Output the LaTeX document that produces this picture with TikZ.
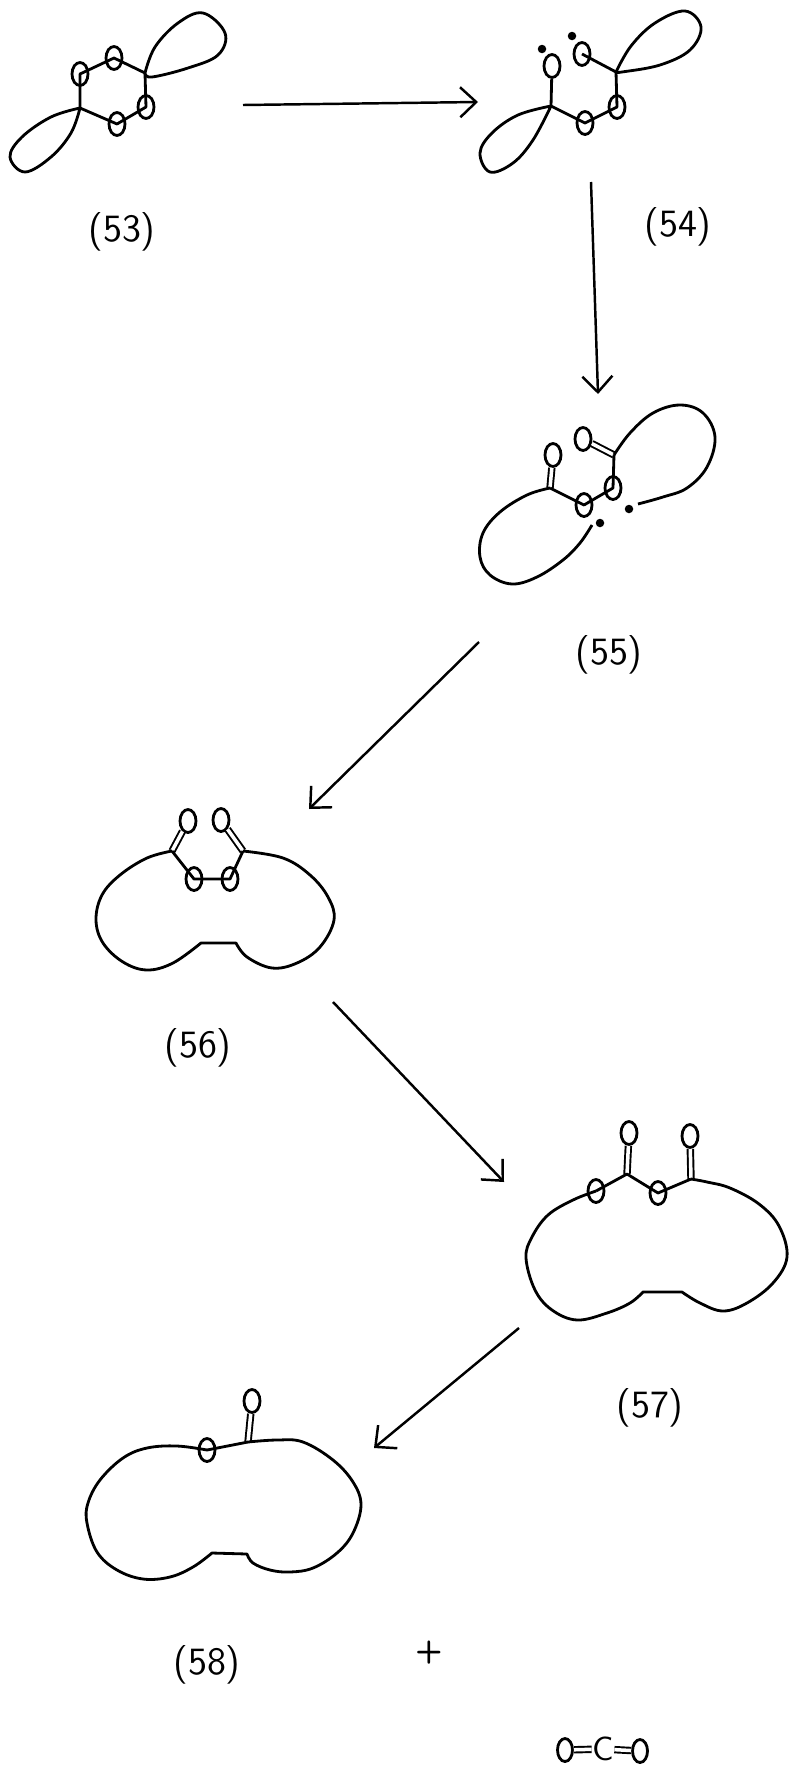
\documentclass[tikz,border=0pt]{standalone}
\usepackage{xcolor}
\usepackage{tikz}
\usetikzlibrary{arrows.meta,positioning,shapes.geometric}
\tikzset{
  oatom/.style={ellipse,draw=black,line width=0.8pt,minimum width=1.6mm,
                minimum height=2.3mm,inner sep=0pt},
  radical/.style={circle,fill=black,minimum size=0.85mm,inner sep=0pt},
  bondline/.style={line width=0.8pt,line join=round},
  dblbond/.style={line width=0.55pt,double,double distance=1pt},
  ringline/.style={smooth,tension=0.62},
  rxnarrow/.style={-{Straight Barb[length=1.6mm,width=3mm]},line width=0.7pt},
  cmpdlabel/.style={font=\sffamily\fontsize{11}{13}\selectfont}
}
\begin{document}
\begin{tikzpicture}[x=0.1mm,y=-0.1mm]
    \useasboundingbox (0,0) rectangle (789,1765);

    \begin{scope}
      \node[cmpdlabel] (l53) at (122,232) {(53)};
      \coordinate (c53a) at (145,73);
      \coordinate (c53b) at (80,108);
      \node[oatom] (o53a) at (114,58) {};
      \node[oatom] (o53b) at (80,74) {};
      \node[oatom] (o53c) at (146,107) {};
      \node[oatom] (o53d) at (117,124) {};
      \draw[bondline] (c53a) -- (o53a.center) -- (o53b.center) -- (c53b)
        -- (o53d.center) -- (o53c.center) -- (c53a);
      \draw[bondline] plot[ringline] coordinates {(c53a) (155,47) (178,23)
        (203,13) (225,33) (218,55) (188,68) (152,77) (c53a)};
      \draw[bondline] plot[ringline] coordinates {(c53b) (51,117) (22,137)
        (10,157) (25,172) (51,157) (71,133) (c53b)};
    \end{scope}

    \begin{scope}
      \node[cmpdlabel] (l54) at (678,227) {(54)};
      \coordinate (c54a) at (616,72);
      \coordinate (c54b) at (551,106);
      \node[oatom] (o54a) at (552,66) {};
      \node[oatom] (o54b) at (582,54) {};
      \node[oatom] (o54c) at (617,107) {};
      \node[oatom] (o54d) at (585,123) {};
      \node[radical] (r54a) at (542,49) {};
      \node[radical] (r54b) at (572,36) {};
      \draw[bondline] (o54b.center) -- (c54a) -- (o54c.center) -- (o54d.center)
        -- (c54b) -- (o54a);
      \draw[bondline] plot[ringline] coordinates {(c54a) (631,46) (655,23)
        (685,11) (701,27) (690,50) (660,65) (622,72) (c54a)};
      \draw[bondline] plot[ringline] coordinates {(c54b) (518,115) (492,133)
        (480,153) (490,172) (513,163) (533,140) (c54b)};
    \end{scope}

    \begin{scope}
      \node[cmpdlabel] (l55) at (609,655) {(55)};
      \coordinate (c55a) at (550,488);
      \coordinate (c55b) at (614,455);
      \coordinate (e55a) at (592,525);
      \coordinate (e55b) at (638,504);
      \node[oatom] (o55a) at (553,455) {};
      \node[oatom] (o55b) at (583,439) {};
      \node[oatom] (o55c) at (584,505) {};
      \node[oatom] (o55d) at (613,488) {};
      \node[radical] (r55a) at (600,523) {};
      \node[radical] (r55b) at (629,509) {};
      \draw[dblbond] (c55a) -- (o55a);
      \draw[dblbond] (c55b) -- (o55b);
      \draw[bondline] (c55a) -- (o55c.center) -- (o55d.center) -- (c55b);
      \draw[bondline] plot[ringline] coordinates {(c55a) (527,495) (500,512)
        (483,533) (480,557) (490,575) (512,584) (537,577) (563,560) (580,543) (e55a)};
      \draw[bondline] plot[ringline] coordinates {(c55b) (630,433) (653,413)
        (680,405) (703,413) (715,437) (707,467) (687,488) (663,497) (e55b)};
    \end{scope}

    \begin{scope}
      \node[cmpdlabel] (l56) at (198,1048) {(56)};
      \coordinate (c56a) at (172,851);
      \coordinate (c56b) at (243,851);
      \node[oatom] (o56a) at (188,821) {};
      \node[oatom] (o56b) at (221,820) {};
      \node[oatom] (o56c) at (194,879) {};
      \node[oatom] (o56d) at (230,879) {};
      \draw[dblbond] (c56a) -- (o56a);
      \draw[dblbond] (c56b) -- (o56b);
      \draw[bondline] (c56a) -- (o56c.center) -- (o56d.center) -- (c56b);
      \draw[bondline] plot[ringline] coordinates {(c56a) (147,858) (120,875)
        (102,895) (96,920) (103,943) (123,962) (147,970) (173,963) (201,943)}
        -- plot[ringline] coordinates {(236,943) (247,957) (272,968) (297,963)
        (320,947) (334,920) (328,897) (310,875) (283,858) (c56b)};
    \end{scope}

    \begin{scope}
      \node[cmpdlabel] (l57) at (650,1408) {(57)};
      \coordinate (c57a) at (627,1174);
      \coordinate (c57b) at (691,1179);
      \node[oatom] (o57a) at (629,1133) {};
      \node[oatom] (o57b) at (690,1136) {};
      \node[oatom] (o57c) at (658,1193) {};
      \node[oatom] (o57d) at (596,1191) {};
      \draw[dblbond] (c57a) -- (o57a);
      \draw[dblbond] (c57b) -- (o57b);
      \draw[bondline] (o57d.center) -- (c57a) -- (o57c.center) -- (c57b);
      \draw[bondline] plot[ringline] coordinates {(o57d.center) (573,1200)
        (548,1215) (532,1237) (526,1258) (535,1290) (552,1310) (577,1320) (607,1313)
        (630,1303) (643,1292)}
        -- plot[ringline] coordinates {(682,1292) (700,1303) (723,1311) (747,1303)
        (773,1283) (787,1257) (779,1226) (759,1204) (730,1188) (707,1182) (c57b)};
    \end{scope}

    \begin{scope}
      \node[cmpdlabel] (l58) at (207,1665) {(58)};
      \coordinate (c58a) at (248,1442);
      \node[oatom] (o58a) at (252,1401) {};
      \node[oatom] (o58b) at (207,1450) {};
      \draw[dblbond] (c58a) -- (o58a);
      \draw[bondline] (c58a) -- (o58b.center);
      \draw[bondline] plot[ringline] coordinates {(o58b.center) (177,1446)
        (147,1448) (123,1458) (100,1480) (88,1503) (87,1523) (97,1552) (117,1570)
        (143,1579) (170,1577) (193,1567) (212,1553)}
        -- plot[ringline] coordinates {(247,1554) (253,1563) (270,1570) (290,1572)
        (313,1568) (337,1553) (353,1533) (361,1505) (353,1482) (333,1460) (303,1442)
        (277,1440) (c58a)};
    \end{scope}

    \node[font=\sffamily\bfseries\fontsize{9}{10}\selectfont,inner sep=0pt] (plus) at (429,1653) {+};
    \node[oatom,minimum width=1.5mm,minimum height=2.3mm] (co2a) at (565,1750) {};
    \node[font=\sffamily\fontsize{9.5}{10}\selectfont,inner sep=0pt] (co2c) at (603,1749) {C};
    \node[oatom,minimum width=1.5mm,minimum height=2.3mm] (co2b) at (640,1751) {};
    \draw[dblbond] (co2a) -- (co2c);
    \draw[dblbond] (co2c) -- (co2b);

    \coordinate (a1s) at (243,105);
    \coordinate (a1e) at (478,102);
    \coordinate (a2s) at (591,182);
    \coordinate (a2e) at (598,394);
    \coordinate (a3s) at (479,642);
    \coordinate (a3e) at (309,809);
    \coordinate (a4s) at (333,1002);
    \coordinate (a4e) at (504,1182);
    \coordinate (a5s) at (519,1328);
    \coordinate (a5e) at (374,1448);
    \foreach \i in {1,...,5} {
      \draw[rxnarrow] (a\i s) -- (a\i e);
    }
\end{tikzpicture}
\end{document}
